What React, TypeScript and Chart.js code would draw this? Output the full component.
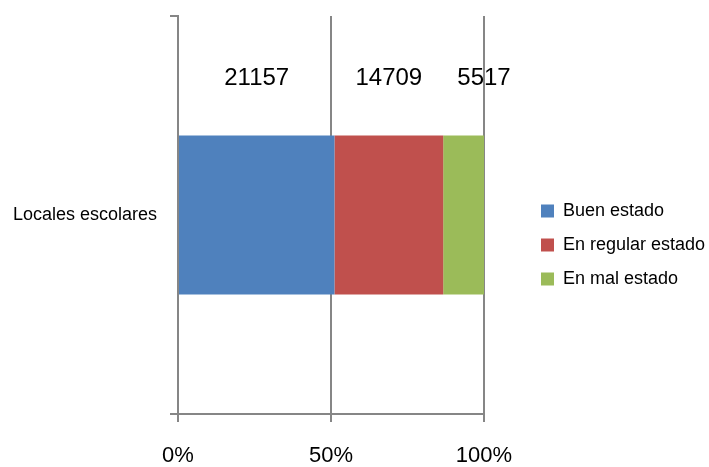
import React, { useEffect, useRef } from 'react';
import { Chart, registerables } from 'chart.js';

Chart.register(...registerables);

// School buildings by condition, shown as shares of the total (100% stacked bar)
const categories = ['Locales escolares'];
const seriesNames = ['Buen estado', 'En regular estado', 'En mal estado'];
const seriesCounts = [21157, 14709, 5517];
const seriesColors = ['#4F81BD', '#C0504D', '#9BBB59'];
const percentTicks = [0, 50, 100];

const FONT = "'Liberation Sans', Arial, sans-serif";
const AXIS_GRAY = '#868686';

const total = seriesCounts.reduce((a, b) => a + b, 0);

// Writes each series' count above its segment; the outermost one sits on the bar's end.
const valueLabels = {
  id: 'valueLabels',
  afterDatasetsDraw(chart: any) {
    const ctx = chart.ctx as CanvasRenderingContext2D;
    const last = chart.data.datasets.length - 1;
    ctx.save();
    ctx.font = `24px ${FONT}`;
    ctx.fillStyle = '#000000';
    ctx.textAlign = 'center';
    ctx.textBaseline = 'middle';
    chart.data.datasets.forEach((_ds: any, i: number) => {
      const meta = chart.getDatasetMeta(i);
      meta.data.forEach((el: any) => {
        const { x, y, base, height } = el.getProps(['x', 'y', 'base', 'height'], true);
        const cx = i === last ? x : (x + base) / 2;
        ctx.fillText(String(seriesCounts[i]), cx, y - height / 2 - 57);
      });
    });
    ctx.restore();
  },
};

export default function App() {
  const canvasRef = useRef<HTMLCanvasElement | null>(null);

  useEffect(() => {
    document.body.style.margin = '0';
    const canvas = canvasRef.current;
    if (!canvas) return;

    const chart = new Chart(canvas, {
      type: 'bar',
      data: {
        labels: categories,
        datasets: seriesNames.map((name, i) => ({
          label: name,
          data: [(seriesCounts[i] / total) * 100],
          backgroundColor: seriesColors[i],
          borderColor: seriesColors[i],
          borderWidth: 0,
          categoryPercentage: 1,
          barPercentage: 0.4,
          xAxisID: 'x',
          yAxisID: 'y',
        })),
      },
      options: {
        indexAxis: 'y',
        responsive: false,
        animation: false,
        events: [],
        layout: { padding: { top: 16, right: 0, bottom: -7, left: 13 } },
        scales: {
          x: {
            type: 'linear',
            position: 'bottom',
            stacked: true,
            min: 0,
            max: 100,
            afterBuildTicks: (scale: any) => {
              scale.ticks = percentTicks.map((v) => ({ value: v }));
            },
            afterFit: (scale: any) => {
              scale.height = 60;
            },
            grid: {
              color: AXIS_GRAY,
              lineWidth: 2,
              tickLength: 8,
              drawTicks: true,
            },
            border: { display: true, color: AXIS_GRAY, width: 2 },
            ticks: {
              padding: 23,
              color: '#000000',
              font: { family: FONT, size: 22, lineHeight: 1 },
              callback: (v: any) => `${v}%`,
            },
          },
          y: {
            type: 'category',
            position: 'left',
            stacked: true,
            offset: true,
            afterFit: (scale: any) => {
              scale.width = 165;
            },
            grid: {
              offset: true,
              drawOnChartArea: false,
              color: AXIS_GRAY,
              lineWidth: 2,
              tickLength: 8,
            },
            border: { display: true, color: AXIS_GRAY, width: 2 },
            ticks: {
              padding: 0,
              crossAlign: 'far',
              color: '#000000',
              font: { family: FONT, size: 18 },
            },
          },
          yRight: {
            axis: 'y',
            type: 'linear',
            position: 'right',
            afterFit: (scale: any) => {
              scale.width = 41;
            },
            grid: { display: false, drawTicks: false },
            border: { display: false },
            ticks: { display: false },
          },
        },
        plugins: {
          legend: {
            position: 'right',
            align: 'center',
            maxWidth: 184,
            labels: {
              boxWidth: 13,
              boxHeight: 13,
              padding: 16,
              color: '#000000',
              font: { family: FONT, size: 18 },
            },
          },
          tooltip: { enabled: false },
          title: { display: false },
        },
      },
      plugins: [valueLabels],
    } as any);

    return () => chart.destroy();
  }, []);

  return (
    <div style={{ width: 709, height: 467, background: '#ffffff' }}>
      <canvas ref={canvasRef} width={709} height={467} style={{ display: 'block' }} />
    </div>
  );
}
